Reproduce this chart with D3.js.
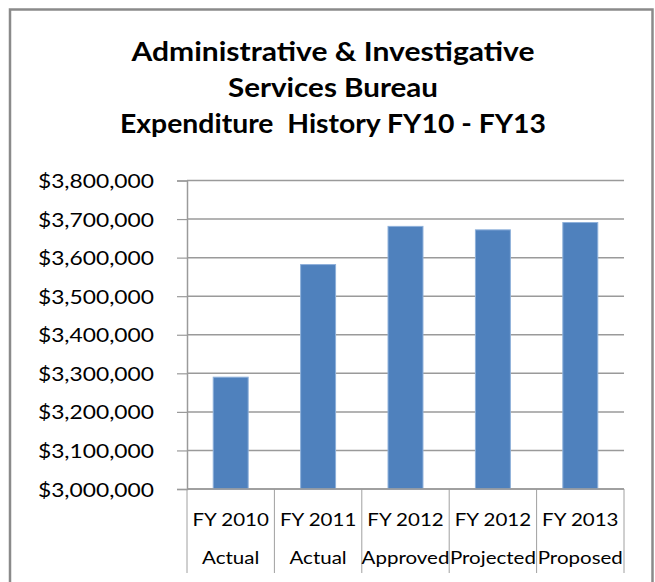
<!DOCTYPE html>
<html>
<head>
<meta charset="utf-8">
<script src="https://cdn.jsdelivr.net/npm/d3@7"></script>
<style>
  html, body { margin: 0; padding: 0; background: #fff; }
  svg { display: block; }
  text { font-family: Lato, "Open Sans", sans-serif; fill: #000; }
</style>
</head>
<body>
<svg id="chart" width="655" height="582"></svg>
<script>
// Expenditure by fiscal year
const titleLines = ["Administrative & Investigative", "Services Bureau", "Expenditure  History FY10 - FY13"];
const yearLabels = ["FY 2010", "FY 2011", "FY 2012", "FY 2012", "FY 2013"];
const statusLabels = ["Actual", "Actual", "Approved", "Projected", "Proposed"];
const expenditures = [3290000, 3582000, 3681000, 3672000, 3691000];
const yTicks = [3000000, 3100000, 3200000, 3300000, 3400000, 3500000, 3600000, 3700000, 3800000];

const svg = d3.select("#chart");
const W = 655, H = 582;
const plot = { left: 187, right: 624, top: 180.5, bottom: 489 };
const SX = 1.2; // horizontal stretch applied to the text

const categories = yearLabels.map((d, i) => i);

const x = d3.scaleBand()
  .domain(categories)
  .range([plot.left, plot.right])
  .paddingInner(0.6)
  .paddingOuter(0.3);

const y = d3.scaleLinear()
  .domain([3000000, 3800000])
  .range([plot.bottom, plot.top]);

// chart frame
svg.append("rect")
  .attr("x", 10).attr("y", 9.5)
  .attr("width", 642.5).attr("height", H + 20)
  .attr("fill", "#fff")
  .attr("stroke", "#8a8a8a")
  .attr("stroke-width", 2.5);

// title
const title = svg.append("g");
const titleBase = [61, 97, 133];
const titleWidth = [403, 210, 426];
titleLines.forEach((t, i) => {
  title.append("text")
    .attr("x", 333)
    .attr("y", titleBase[i])
    .attr("text-anchor", "middle")
    .attr("font-size", 27)
    .attr("font-weight", "bold")
    .attr("xml:space", "preserve")
    .attr("textLength", titleWidth[i])
    .attr("lengthAdjust", "spacingAndGlyphs")
    .text(t);
});

// horizontal gridlines
svg.append("g")
  .selectAll("line")
  .data(yTicks)
  .join("line")
  .attr("x1", plot.left).attr("x2", plot.right)
  .attr("y1", d => y(d)).attr("y2", d => y(d))
  .attr("stroke", "#9a9a9a")
  .attr("stroke-width", 1.5);

// value axis
const fmt = d3.format("$,.0f");
const yAxis = svg.append("g")
  .attr("transform", `translate(${plot.left},0)`)
  .call(d3.axisLeft(y).tickValues(yTicks).tickSize(10).tickPadding(0).tickFormat(""));
yAxis.select(".domain").attr("stroke", "#9a9a9a").attr("stroke-width", 1.5);
yAxis.selectAll(".tick line").attr("stroke", "#9a9a9a").attr("stroke-width", 1.2);

svg.append("g")
  .selectAll("text")
  .data(yTicks)
  .join("text")
  .attr("transform", d => `translate(154,${y(d) + 7.5}) scale(${SX},1)`)
  .attr("text-anchor", "end")
  .attr("font-size", 19)
  .text(d => fmt(d));

// bars
svg.append("g")
  .selectAll("rect")
  .data(expenditures)
  .join("rect")
  .attr("x", (d, i) => x(i))
  .attr("width", x.bandwidth())
  .attr("y", d => y(d))
  .attr("height", d => y(3000000) - y(d))
  .attr("fill", "#4f81bd")
  .attr("stroke", "#8eb0da")
  .attr("stroke-width", 1);

// category separators below the axis
const step = x.step();
const edges = d3.range(categories.length + 1).map(i => plot.left + i * step);
svg.append("g")
  .selectAll("line")
  .data(edges)
  .join("line")
  .attr("x1", d => d).attr("x2", d => d)
  .attr("y1", plot.bottom).attr("y2", 573)
  .attr("stroke", "#a0a0a0")
  .attr("stroke-width", 1);

svg.append("line")
  .attr("x1", plot.left).attr("x2", plot.right)
  .attr("y1", plot.bottom).attr("y2", plot.bottom)
  .attr("stroke", "#9a9a9a")
  .attr("stroke-width", 1.5);

// category labels, two rows
const labels = svg.append("g");
labels.selectAll("text.yr")
  .data(yearLabels)
  .join("text")
  .attr("class", "yr")
  .attr("transform", (d, i) => `translate(${x(i) + x.bandwidth() / 2},526) scale(${SX * 0.95},1)`)
  .attr("text-anchor", "middle")
  .attr("font-size", 18)
  .text(d => d);
labels.selectAll("text.st")
  .data(statusLabels)
  .join("text")
  .attr("class", "st")
  .attr("transform", (d, i) => `translate(${x(i) + x.bandwidth() / 2},564) scale(${SX * 0.95},1)`)
  .attr("text-anchor", "middle")
  .attr("font-size", 18)
  .text(d => d);
</script>
</body>
</html>
